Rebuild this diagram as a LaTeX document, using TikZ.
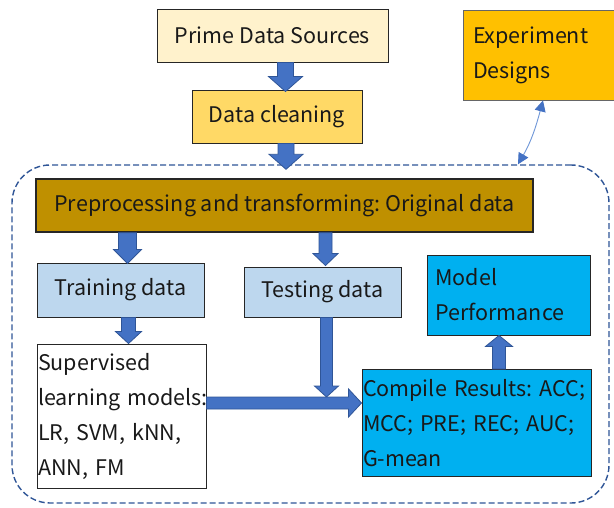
\documentclass[tikz,border=0pt]{standalone}
\usepackage{fontspec}
\setmainfont{Noto Sans CJK SC}
\usetikzlibrary{calc,arrows.meta}
\definecolor{cream}{HTML}{FFF2CC}
\definecolor{gold}{HTML}{FFD966}
\definecolor{amber}{HTML}{FFC000}
\definecolor{ochre}{HTML}{BF9000}
\definecolor{paleblue}{HTML}{BDD7EE}
\definecolor{cyanbox}{HTML}{00B0F0}
\definecolor{arrowfill}{HTML}{4472C4}
\definecolor{arrowline}{HTML}{2F5597}
\definecolor{curvecol}{HTML}{6F97D8}
\tikzset{
  box/.style={draw=black!85, line width=0.9pt, inner sep=0pt, text=black!90,
    font=\fontsize{21.5}{35}\selectfont\frenchspacing},
  barrow/.style={fill=arrowfill, draw=arrowline, line width=0.8pt, line join=miter},
  frame/.style={draw=arrowline, dashed, dash pattern=on 6pt off 3pt, line width=1.4pt, rounded corners=38pt}
}
% down arrow: #1 start, #2 tip, #3 half shaft, #4 half head, #5 head length
\newcommand{\dnarrow}[5]{%
  \filldraw[barrow] let \p1=#1, \p2=#2 in
  (\x1-#3,\y1) -- (\x1-#3,\y2+#5) -- (\x1-#4,\y2+#5) -- (\x1,\y2) --
  (\x1+#4,\y2+#5) -- (\x1+#3,\y2+#5) -- (\x1+#3,\y1) -- cycle;}
\newcommand{\uparrowblk}[5]{%
  \filldraw[barrow] let \p1=#1, \p2=#2 in
  (\x1-#3,\y1) -- (\x1-#3,\y2-#5) -- (\x1-#4,\y2-#5) -- (\x1,\y2) --
  (\x1+#4,\y2-#5) -- (\x1+#3,\y2-#5) -- (\x1+#3,\y1) -- cycle;}
\newcommand{\rtarrow}[5]{%
  \filldraw[barrow] let \p1=#1, \p2=#2 in
  (\x1,\y1-#3) -- (\x2-#5,\y1-#3) -- (\x2-#5,\y1-#4) -- (\x2,\y1) --
  (\x2-#5,\y1+#4) -- (\x2-#5,\y1+#3) -- (\x1,\y1+#3) -- cycle;}
\begin{document}
\begin{tikzpicture}[x=1pt,y=-1pt]
\useasboundingbox (0,0) rectangle (614,508);
\fill[white] (0,0) rectangle (614,508);
% frame
\node[frame, minimum width=597pt, minimum height=338pt, inner sep=0pt] (frame) at (310.5,334) {};
% top nodes
\node[box, fill=cream, minimum width=231pt, minimum height=53pt] (prime) at (272.5,35.5) {Prime Data Sources};
\node[box, fill=gold, minimum width=170pt, minimum height=53pt] (clean) at (277,116.5) {Data cleaning};
\node[box, fill=amber, draw=black!60, minimum width=160pt, minimum height=90pt, align=left,
  text width=140pt] (exp) at (543,55) {Experiment\\Designs};
% inner nodes
\node[box, fill=ochre, line width=1.4pt, minimum width=497pt, minimum height=53pt] (pre) at (284.5,205.5)
  {Preprocessing and transforming: Original data};
\node[box, fill=paleblue, minimum width=167pt, minimum height=54pt] (train) at (120.5,290) {Training data};
\node[box, fill=paleblue, minimum width=157pt, minimum height=50pt] (test) at (322.5,292) {Testing data};
\node[box, fill=cyanbox, minimum width=163pt, minimum height=80pt, align=left, text width=146pt]
  (model) at (508.5,295) {Model\\Performance};
\node[box, fill=white, minimum width=169pt, minimum height=144pt, align=left, text width=167pt]
  (sup) at (121.5,416) {Supervised\\\mbox{learning models:}\\\mbox{LR, SVM, kNN,}\\ANN, FM};
\node[box, fill=cyanbox, minimum width=229pt, minimum height=107pt, align=left, text width=227pt]
  (comp) at (476.5,423) {\mbox{Compile Results: ACC;}\\\mbox{MCC; PRE; REC; AUC;}\\G-mean};
\coordinate (join) at ($(sup.east)+(0,-13)$);
% block arrows
\dnarrow{($(prime.south)+(13,0)$)}{($(clean.north)+(0,2)$)}{8pt}{17pt}{15pt}
\dnarrow{($(clean.south)+(9,0)$)}{($(frame.north)+(0,5)$)}{8pt}{17pt}{15pt}
\dnarrow{($(pre.south -| train.north)+(7,0)$)}{($(train.north)+(0,1)$)}{9pt}{14pt}{14pt}
\dnarrow{($(pre.south -| test.north)+(3,0)$)}{($(test.north)+(0,-1)$)}{6.5pt}{12.5pt}{12pt}
\dnarrow{($(train.south)+(8,0)$)}{(sup.north)}{7pt}{13pt}{12pt}
\dnarrow{($(test.south)+(4,0)$)}{($(join)+(0,-6)$)}{6pt}{12pt}{11pt}
\rtarrow{(join)}{(comp.west |- join)}{6pt}{14pt}{13pt}
\uparrowblk{($(comp.north)+(22.5,0)$)}{(model.south)}{6.5pt}{13.5pt}{11pt}
% curved double arrow
\draw[curvecol, line width=0.9pt, {Triangle[length=11pt,width=11pt,color=arrowfill]}-{Triangle[length=11pt,width=11pt,color=arrowfill]}]
  (exp.south) to[out=-105,in=60] ($(frame.north -| exp.south)+(-25,0)$);
\end{tikzpicture}
\end{document}
